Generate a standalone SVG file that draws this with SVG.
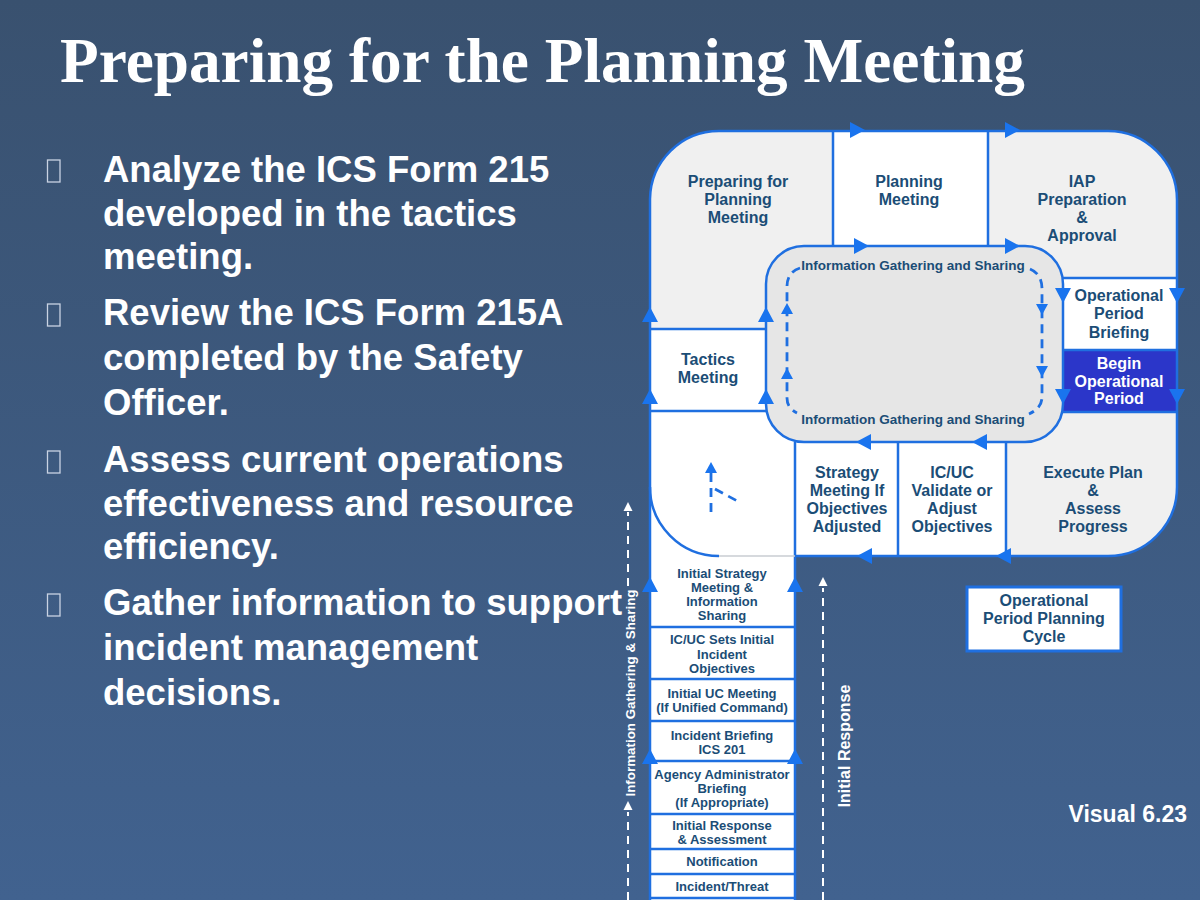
<svg xmlns="http://www.w3.org/2000/svg" width="1200" height="900" viewBox="0 0 1200 900">
<defs>
<linearGradient id="bg" x1="0" y1="0" x2="0" y2="1">
<stop offset="0" stop-color="#39516f"/>
<stop offset="1" stop-color="#41628f"/>
</linearGradient>
<path id="tri" d="M-7,-8 L8,0 L-7,8 Z" fill="#1a74ee"/>
<path id="tris" d="M-5,-6 L6,0 L-5,6 Z" fill="#1a74ee"/>
<path id="triw" d="M-4,-4.5 L5,0 L-4,4.5 Z" fill="#ffffff"/>
</defs>
<style>
.ln{stroke:#1f6fe0;stroke-width:2.5;fill:none}
.gray{fill:#f0f0f0}
.wh{fill:#ffffff}
.t{font-family:"Liberation Sans",Arial,sans-serif;font-weight:bold;font-size:16px;fill:#1b4d76;text-anchor:middle}
.s{font-size:13px}
.ig{font-size:13.5px}
.w{fill:#ffffff}
.bul{font-family:"Liberation Sans",Arial,sans-serif;font-weight:bold;font-size:36.5px;fill:#ffffff}
.box{fill:none;stroke:#c9d3e3;stroke-width:1.3}
.dash{stroke:#1f6fe0;stroke-width:2.8;fill:none;stroke-dasharray:9 6}
.wdash{stroke:#ffffff;stroke-width:2;fill:none;stroke-dasharray:8 6}
</style>
<rect x="0" y="0" width="1200" height="900" fill="url(#bg)"/>
<text x="60" y="82" font-family="Liberation Serif,'Times New Roman',serif" font-weight="bold" font-size="63" fill="#ffffff" textLength="965" lengthAdjust="spacingAndGlyphs">Preparing for the Planning Meeting</text>

<g id="bullets">
<rect class="box" x="47.5" y="160" width="12.5" height="22"/>
<rect class="box" x="47.5" y="304" width="12.5" height="22"/>
<rect class="box" x="47.5" y="451" width="12.5" height="22"/>
<rect class="box" x="47.5" y="594" width="12.5" height="22"/>
<text class="bul" x="103" y="182">Analyze the ICS Form 215</text>
<text class="bul" x="103" y="226">developed in the tactics</text>
<text class="bul" x="103" y="269">meeting.</text>
<text class="bul" x="103" y="325">Review the ICS Form 215A</text>
<text class="bul" x="103" y="370">completed by the Safety</text>
<text class="bul" x="103" y="415">Officer.</text>
<text class="bul" x="103" y="472">Assess current operations</text>
<text class="bul" x="103" y="516">effectiveness and resource</text>
<text class="bul" x="103" y="559">efficiency.</text>
<text class="bul" x="103" y="615">Gather information to support</text>
<text class="bul" x="103" y="660">incident management</text>
<text class="bul" x="103" y="705">decisions.</text>
</g>

<g id="cycle-background">
<path class="gray" d="M650,199 A69,69 0 0 1 719,131 H1108 A69,69 0 0 1 1177,200 V487 A69,69 0 0 1 1108,556 H650 Z"/>
<rect class="wh" x="650" y="411" width="145" height="145"/>
</g>

<g id="preparing-for-planning-meeting">
<text class="t" x="738" y="187">Preparing for</text>
<text class="t" x="738" y="205">Planning</text>
<text class="t" x="738" y="223">Meeting</text>
</g>
<g id="planning-meeting">
<rect class="wh" x="833" y="131" width="155" height="115"/>
<text class="t" x="909" y="187">Planning</text>
<text class="t" x="909" y="205">Meeting</text>
</g>
<g id="iap-preparation">
<text class="t" x="1082" y="187">IAP</text>
<text class="t" x="1082" y="205">Preparation</text>
<text class="t" x="1082" y="223">&amp;</text>
<text class="t" x="1082" y="241">Approval</text>
</g>
<g id="operational-period-briefing">
<rect class="wh" x="1063" y="278" width="114" height="72"/>
<text class="t" x="1119" y="301">Operational</text>
<text class="t" x="1119" y="319">Period</text>
<text class="t" x="1119" y="338">Briefing</text>
</g>
<g id="begin-operational-period">
<rect x="1063" y="350" width="114" height="62" fill="#2b36c9"/>
<text class="t w" x="1119" y="369">Begin</text>
<text class="t w" x="1119" y="387">Operational</text>
<text class="t w" x="1119" y="404">Period</text>
</g>
<g id="tactics-meeting">
<rect class="wh" x="650" y="329" width="116" height="82"/>
<text class="t" x="708" y="365">Tactics</text>
<text class="t" x="708" y="383">Meeting</text>
</g>
<g id="strategy-meeting">
<rect class="wh" x="795" y="442" width="103" height="114"/>
<text class="t" x="847" y="478">Strategy</text>
<text class="t" x="847" y="496">Meeting If</text>
<text class="t" x="847" y="514">Objectives</text>
<text class="t" x="847" y="532">Adjusted</text>
</g>
<g id="icuc-validate">
<rect class="wh" x="898" y="442" width="108" height="114"/>
<text class="t" x="952" y="478">IC/UC</text>
<text class="t" x="952" y="496">Validate or</text>
<text class="t" x="952" y="514">Adjust</text>
<text class="t" x="952" y="532">Objectives</text>
</g>
<g id="execute-plan">
<text class="t" x="1093" y="478">Execute Plan</text>
<text class="t" x="1093" y="496">&amp;</text>
<text class="t" x="1093" y="514">Assess</text>
<text class="t" x="1093" y="532">Progress</text>
</g>
<g id="information-gathering-inner">
<rect x="766" y="246" width="297" height="196" rx="38" ry="38" fill="#e6e6e6" stroke="#1f6fe0" stroke-width="2.5"/>
<text class="t ig" x="913" y="270">Information Gathering and Sharing</text>
<text class="t ig" x="913" y="424">Information Gathering and Sharing</text>
</g>

<g id="initial-response-stack">
<rect class="wh" x="650" y="556" width="145" height="344"/>
<text class="t s" x="722" y="578">Initial Strategy</text>
<text class="t s" x="722" y="592">Meeting &amp;</text>
<text class="t s" x="722" y="606">Information</text>
<text class="t s" x="722" y="620">Sharing</text>
<text class="t s" x="722" y="644">IC/UC Sets Initial</text>
<text class="t s" x="722" y="659">Incident</text>
<text class="t s" x="722" y="673">Objectives</text>
<text class="t s" x="722" y="698">Initial UC Meeting</text>
<text class="t s" x="722" y="712">(If Unified Command)</text>
<text class="t s" x="722" y="740">Incident Briefing</text>
<text class="t s" x="722" y="754">ICS 201</text>
<text class="t s" x="722" y="779">Agency Administrator</text>
<text class="t s" x="722" y="793">Briefing</text>
<text class="t s" x="722" y="807">(If Appropriate)</text>
<text class="t s" x="722" y="830">Initial Response</text>
<text class="t s" x="722" y="844">&amp; Assessment</text>
<text class="t s" x="722" y="866">Notification</text>
<text class="t s" x="722" y="891">Incident/Threat</text>
</g>

<g id="planning-cycle-label">
<rect x="967" y="587" width="154" height="64" fill="#ffffff" stroke="#1f6fe0" stroke-width="3"/>
<text class="t" x="1044" y="606">Operational</text>
<text class="t" x="1044" y="624">Period Planning</text>
<text class="t" x="1044" y="642">Cycle</text>
</g>

<g id="connectors">
<path class="ln" stroke-width="3" d="M650,900 V199 A69,69 0 0 1 719,131 H1108 A69,69 0 0 1 1177,200 V487 A69,69 0 0 1 1108,556 H795"/>
<path class="ln" stroke-width="3" d="M795,442 V900"/>
<path class="ln" d="M833,131 V246 M988,131 V246 M650,329 H766 M650,411 H766 M1063,278 H1177 M1063,350 H1177 M1063,412 H1177 M898,442 V556 M1006,442 V556"/>
<path class="ln" d="M650,627 H795 M650,679 H795 M650,721 H795 M650,761 H795 M650,814 H795 M650,849 H795 M650,874 H795 M650,898 H795"/>
<path class="ln" d="M650,487 A69,69 0 0 0 719,556"/>
<path d="M719,556 H795" stroke="#c8ccd2" stroke-width="1.5"/>
<path class="dash" d="M800,268 Q787,272 787,287 V398 Q787,408 797,413"/>
<path class="dash" d="M1030,269 Q1042,274 1042,289 V397 Q1042,408 1029,414"/>
<path class="dash" d="M711,512 V472"/>
<path class="dash" stroke-dasharray="9 7" d="M715,489 L741,503"/>
<use href="#tris" transform="translate(711,468) rotate(-90)"/>
<use href="#tri" transform="translate(857,130)"/>
<use href="#tri" transform="translate(1012,130)"/>
<use href="#tri" transform="translate(861,246)"/>
<use href="#tri" transform="translate(1012,246)"/>
<use href="#tri" transform="translate(650,315) rotate(-90)"/>
<use href="#tri" transform="translate(650,397) rotate(-90)"/>
<use href="#tri" transform="translate(766,315) rotate(-90)"/>
<use href="#tri" transform="translate(766,397) rotate(-90)"/>
<use href="#tri" transform="translate(650,585) rotate(-90)"/>
<use href="#tri" transform="translate(650,757) rotate(-90)"/>
<use href="#tri" transform="translate(795,585) rotate(-90)"/>
<use href="#tri" transform="translate(795,757) rotate(-90)"/>
<use href="#tri" transform="translate(1063,295) rotate(90)"/>
<use href="#tri" transform="translate(1063,396) rotate(90)"/>
<use href="#tri" transform="translate(1177,295) rotate(90)"/>
<use href="#tri" transform="translate(1177,396) rotate(90)"/>
<use href="#tri" transform="translate(864,442) rotate(180)"/>
<use href="#tri" transform="translate(980,442) rotate(180)"/>
<use href="#tri" transform="translate(865,556) rotate(180)"/>
<use href="#tri" transform="translate(1004,556) rotate(180)"/>
<use href="#tris" transform="translate(787,309) rotate(-90)"/>
<use href="#tris" transform="translate(787,374) rotate(-90)"/>
<use href="#tris" transform="translate(1042,309) rotate(90)"/>
<use href="#tris" transform="translate(1042,371) rotate(90)"/>
<path class="wdash" d="M628,900 V812"/>
<path class="wdash" d="M628,586 V512"/>
<use href="#triw" transform="translate(628,806) rotate(-90)"/>
<use href="#triw" transform="translate(628,507) rotate(-90)"/>
<path class="wdash" d="M823,900 V588"/>
<use href="#triw" transform="translate(823,582) rotate(-90)"/>
</g>

<g id="side-labels">
<text class="t w s" transform="translate(635,693) rotate(-90)" textLength="207" lengthAdjust="spacingAndGlyphs">Information Gathering &amp; Sharing</text>
<text class="t w" transform="translate(850,746) rotate(-90)">Initial Response</text>
<text class="t w" x="1187" y="822" style="text-anchor:end;font-size:23px">Visual 6.23</text>
</g>
</svg>
